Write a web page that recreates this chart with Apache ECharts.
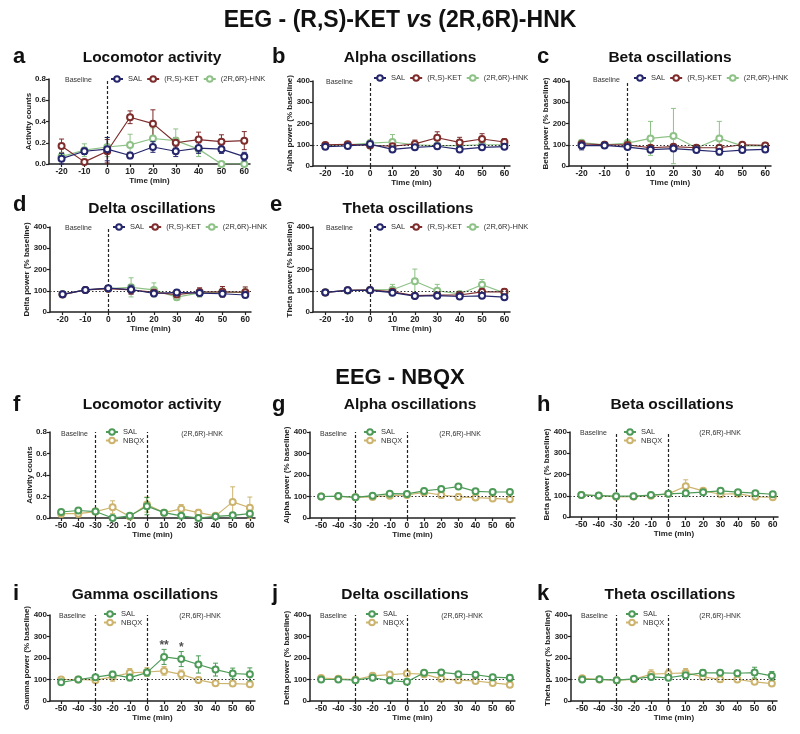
<!DOCTYPE html>
<html><head><meta charset="utf-8">
<script src="https://cdn.jsdelivr.net/npm/echarts@6/dist/echarts.min.js"></script>
<style>html,body{margin:0;padding:0;background:#fff}#c{width:800px;height:734px}</style>
</head><body><div id="c"></div>
<script>
// ---------------- DATA ----------------
const timeTop = [-20, -10, 0, 10, 20, 30, 40, 50, 60];
const timeBottom = [-50, -40, -30, -20, -10, 0, 10, 20, 30, 40, 50, 60];

// Panel a - Locomotor activity (KET vs HNK)
const locoSAL = [0.05, 0.12, 0.14, 0.08, 0.16, 0.12, 0.15, 0.14, 0.07];
const locoSALsem = [0.05, 0.03, 0.11, 0.03, 0.05, 0.05, 0.05, 0.04, 0.04];
const locoKET = [0.17, 0.02, 0.12, 0.44, 0.38, 0.20, 0.23, 0.21, 0.22];
const locoKETsem = [0.065, 0.02, 0.11, 0.06, 0.13, 0.05, 0.07, 0.065, 0.085];
const locoHNK = [0.07, 0.13, 0.16, 0.18, 0.24, 0.22, 0.14, 0.0, 0.0];
const locoHNKsem = [0.04, 0.06, 0.09, 0.10, 0.10, 0.11, 0.07, 0.0, 0.0];
// Panel b - Alpha
const alphaSAL = [91, 94, 103, 78, 88, 93, 78, 88, 91];
const alphaSALsem = [8, 6, 10, 6, 6, 12, 6, 6, 8];
const alphaKET = [99, 102, 97, 93, 104, 133, 111, 127, 113];
const alphaKETsem = [6, 6, 8, 10, 18, 28, 24, 25, 15];
const alphaHNK = [97, 100, 108, 113, 100, 96, 96, 100, 100];
const alphaHNKsem = [6, 6, 10, 35, 10, 10, 10, 10, 10];
// Panel c - Beta
const betaSAL = [96, 97, 89, 77, 82, 75, 67, 75, 78];
const betaSALsem = [20, 6, 8, 6, 6, 6, 6, 6, 6];
const betaKET = [104, 100, 99, 86, 91, 86, 86, 100, 97];
const betaKETsem = [8, 6, 10, 8, 8, 8, 10, 6, 6];
const betaHNK = [110, 100, 108, 130, 141, 85, 130, 95, 95];
const betaHNKsem = [12, 6, 10, 80, 130, 10, 80, 10, 10];
// Panel d - Delta
const deltaSAL = [83, 104, 112, 106, 87, 92, 89, 86, 80];
const deltaSALsem = [6, 6, 10, 20, 10, 12, 12, 12, 12];
const deltaKET = [82, 104, 110, 104, 92, 82, 94, 95, 93];
const deltaKETsem = [6, 6, 10, 20, 15, 20, 20, 25, 25];
const deltaHNK = [83, 104, 110, 116, 104, 70, 90, 92, 92];
const deltaHNKsem = [6, 6, 10, 45, 33, 15, 20, 20, 20];
// Panel e - Theta
const thetaSAL = [92, 102, 102, 91, 75, 77, 73, 76, 70];
const thetaSALsem = [6, 6, 8, 8, 8, 8, 8, 8, 8];
const thetaKET = [92, 102, 104, 95, 77, 79, 80, 95, 95];
const thetaKETsem = [6, 6, 8, 10, 10, 10, 10, 15, 15];
const thetaHNK = [93, 101, 104, 105, 145, 100, 85, 128, 90];
const thetaHNKsem = [6, 6, 8, 25, 57, 30, 10, 25, 15];

// Panel f - Locomotor (NBQX)
const nLocoSAL = [0.056, 0.07, 0.06, 0.0, 0.02, 0.11, 0.05, 0.02, 0.0, 0.015, 0.025, 0.04];
const nLocoSALsem = [0.02, 0.02, 0.02, 0.0, 0.01, 0.08, 0.02, 0.01, 0.0, 0.01, 0.01, 0.02];
const nLocoNBQX = [0.04, 0.04, 0.06, 0.10, 0.015, 0.125, 0.05, 0.085, 0.05, 0.02, 0.15, 0.095];
const nLocoNBQXsem = [0.03, 0.03, 0.02, 0.06, 0.01, 0.07, 0.02, 0.04, 0.03, 0.01, 0.14, 0.10];
// Panel g - Alpha
const nAlphaSAL = [100, 102, 96, 104, 113, 112, 126, 135, 146, 124, 121, 121];
const nAlphaSALsem = [5, 5, 5, 6, 8, 8, 12, 12, 10, 8, 8, 8];
const nAlphaNBQX = [100, 100, 96, 98, 104, 107, 119, 107, 98, 95, 91, 87];
const nAlphaNBQXsem = [5, 5, 5, 6, 6, 8, 10, 15, 15, 8, 8, 8];
// Panel h - Beta
const nBetaSAL = [104, 101, 98, 98, 103, 109, 112, 117, 123, 117, 112, 107];
const nBetaSALsem = [5, 5, 5, 5, 6, 8, 10, 8, 8, 8, 8, 8];
const nBetaNBQX = [104, 100, 95, 96, 100, 109, 145, 123, 107, 110, 95, 93];
const nBetaNBQXsem = [5, 5, 5, 5, 6, 10, 30, 10, 10, 10, 8, 8];
// Panel i - Gamma
const nGammaSAL = [87, 100, 111, 123, 109, 132, 205, 195, 170, 146, 128, 124];
const nGammaSALsem = [6, 5, 8, 15, 15, 15, 35, 35, 40, 30, 25, 30];
const nGammaNBQX = [100, 100, 97, 112, 131, 135, 140, 124, 98, 82, 81, 78];
const nGammaNBQXsem = [5, 5, 6, 20, 20, 20, 20, 20, 12, 8, 6, 6];
// Panel j - Delta
const nDeltaSAL = [100, 100, 97, 108, 95, 89, 131, 133, 125, 122, 111, 108];
const nDeltaSALsem = [6, 5, 5, 8, 8, 8, 10, 10, 10, 15, 12, 15];
const nDeltaNBQX = [107, 103, 100, 117, 123, 128, 125, 103, 97, 93, 84, 76];
const nDeltaNBQXsem = [6, 5, 5, 8, 10, 10, 10, 8, 8, 8, 8, 8];
// Panel k - Theta
const nThetaSAL = [100, 101, 97, 103, 112, 108, 120, 131, 131, 129, 132, 117];
const nThetaSALsem = [5, 5, 5, 5, 8, 8, 10, 15, 12, 10, 25, 20];
const nThetaNBQX = [106, 100, 97, 101, 125, 128, 131, 112, 101, 100, 89, 81];
const nThetaNBQXsem = [8, 8, 5, 5, 20, 20, 20, 10, 15, 10, 8, 10];

// significance marks (panel i)
const sigTime = [10, 20];
const sigValue = [258, 246];
const sigMark = ['**', '*'];

// ---------------- STYLE / LAYOUT ----------------
const FONT = '"Liberation Sans", Arial, Helvetica, sans-serif';
const INK = '#222';
const cNavy = '#25266c', cRed = '#7e2c2c', cLight = '#8ec287', cGreen = '#4e9b59', cTan = '#cdb46e';
const nSAL = 'SAL', nKET = '(R,S)-KET', nHNK = '(2R,6R)-HNK', nSAL2 = 'SAL ', nNBQX = 'NBQX';

const topGroups = (m1, s1, m2, s2, m3, s3) => [
  {name: nHNK, mean: m3, sem: s3, color: cLight, z: 3},
  {name: nKET, mean: m2, sem: s2, color: cRed, z: 4},
  {name: nSAL, mean: m1, sem: s1, color: cNavy, z: 5}
];
const botGroups = (m1, s1, m2, s2) => [
  {name: nNBQX, mean: m2, sem: s2, color: cTan, z: 3},
  {name: nSAL2, mean: m1, sem: s1, color: cGreen, z: 5}
];

const panels = [
  {L:'a', title:'Locomotor activity', yName:'Activity counts', loco:true, top:true, g:[49,79,201,85], tx:152, ty:58, lx:13, ly:57, leg:[110,79], base:[65,80],
   groups: topGroups(locoSAL, locoSALsem, locoKET, locoKETsem, locoHNK, locoHNKsem)},
  {L:'b', title:'Alpha oscillations', yName:'Alpha power (% baseline)', top:true, g:[313,81,197,85], tx:410, ty:58, lx:272, ly:57, leg:[373,78], base:[326,82],
   groups: topGroups(alphaSAL, alphaSALsem, alphaKET, alphaKETsem, alphaHNK, alphaHNKsem)},
  {L:'c', title:'Beta oscillations', yName:'Beta power (% baseline)', top:true, g:[569,81,202,85], tx:670, ty:58, lx:537, ly:57, leg:[633,78], base:[593,80],
   groups: topGroups(betaSAL, betaSALsem, betaKET, betaKETsem, betaHNK, betaHNKsem)},
  {L:'d', title:'Delta oscillations', yName:'Delta power (% baseline)', top:true, g:[50,227,201,85], tx:152, ty:209, lx:13, ly:205, leg:[112,227], base:[65,228],
   groups: topGroups(deltaSAL, deltaSALsem, deltaKET, deltaKETsem, deltaHNK, deltaHNKsem)},
  {L:'e', title:'Theta oscillations', yName:'Theta power (% baseline)', top:true, g:[313,227,197,85], tx:408, ty:209, lx:270, ly:205, leg:[373,227], base:[326,228],
   groups: topGroups(thetaSAL, thetaSALsem, thetaKET, thetaKETsem, thetaHNK, thetaHNKsem)},
  {L:'f', title:'Locomotor activity', yName:'Activity counts', loco:true, g:[50,432,205,86], tx:152, ty:405, lx:13, ly:405, leg:[105,432], base:[61,434], hnk:[202,434],
   groups: botGroups(nLocoSAL, nLocoSALsem, nLocoNBQX, nLocoNBQXsem)},
  {L:'g', title:'Alpha oscillations', yName:'Alpha power (% baseline)', g:[310,432,205,86], tx:410, ty:405, lx:272, ly:405, leg:[363,432], base:[320,434], hnk:[460,434],
   groups: botGroups(nAlphaSAL, nAlphaSALsem, nAlphaNBQX, nAlphaNBQXsem)},
  {L:'h', title:'Beta oscillations', yName:'Beta power (% baseline)', g:[570,432,208,85], tx:672, ty:405, lx:537, ly:405, leg:[623,432], base:[580,433], hnk:[720,433],
   groups: botGroups(nBetaSAL, nBetaSALsem, nBetaNBQX, nBetaNBQXsem)},
  {L:'i', title:'Gamma oscillations', yName:'Gamma power (% baseline)', g:[50,615,205,86], tx:145, ty:595, lx:13, ly:594, leg:[103,614], base:[59,616], hnk:[200,616], sig:true,
   groups: botGroups(nGammaSAL, nGammaSALsem, nGammaNBQX, nGammaNBQXsem)},
  {L:'j', title:'Delta oscillations', yName:'Delta power (% baseline)', g:[310,615,205,86], tx:405, ty:595, lx:272, ly:594, leg:[365,614], base:[320,616], hnk:[462,616],
   groups: botGroups(nDeltaSAL, nDeltaSALsem, nDeltaNBQX, nDeltaNBQXsem)},
  {L:'k', title:'Theta oscillations', yName:'Theta power (% baseline)', g:[571,615,206,86], tx:670, ty:595, lx:537, ly:594, leg:[625,614], base:[581,616], hnk:[720,616],
   groups: botGroups(nThetaSAL, nThetaSALsem, nThetaNBQX, nThetaNBQXsem)}
];

function errRender(color) {
  return function (params, api) {
    const x = api.value(0), lo = api.value(1), hi = api.value(2);
    const a = api.coord([x, hi]), b = api.coord([x, lo]);
    const w = 2.5;
    const st = {stroke: color, lineWidth: 1};
    return {type: 'group', children: [
      {type: 'line', shape: {x1: a[0], y1: a[1], x2: b[0], y2: b[1]}, style: st},
      {type: 'line', shape: {x1: a[0] - w, y1: a[1], x2: a[0] + w, y2: a[1]}, style: st},
      {type: 'line', shape: {x1: b[0] - w, y1: b[1], x2: b[0] + w, y2: b[1]}, style: st}
    ]};
  };
}

function txt(x, y, text, size, weight, align, color, extra) {
  return {type: 'text', x: x, y: y, silent: true, z: 50,
    style: Object.assign({text: text, fill: color || INK, fontSize: size, fontWeight: weight || 'normal', fontFamily: FONT,
      align: align || 'left', verticalAlign: 'middle', textAlign: align || 'left', textVerticalAlign: 'middle'}, extra || {})};
}

const option = {
  animation: false,
  backgroundColor: '#fff',
  textStyle: {fontFamily: FONT},
  grid: [], xAxis: [], yAxis: [], series: [], legend: [],
  graphic: {elements: []}
};

const G = option.graphic.elements;
G.push(txt(400, 21, 'EEG - (R,S)-KET {i|vs} (2R,6R)-HNK', 23, 'bold', 'center', '#111',
  {rich: {i: {fontStyle: 'italic', fontWeight: 'bold', fontSize: 23, fontFamily: FONT, fill: '#111'}}}));
G.push(txt(400, 378, 'EEG - NBQX', 22, 'bold', 'center', '#111'));

panels.forEach((p, i) => {
  const time = p.top ? timeTop : timeBottom;
  const xmin = p.top ? -25.5 : -56.5, xmax = p.top ? 62.5 : 63;
  option.grid.push({left: p.g[0], top: p.g[1], width: p.g[2], height: p.g[3]});
  option.xAxis.push({
    type: 'value', gridIndex: i, min: xmin, max: xmax,
    name: 'Time (min)', nameLocation: 'middle', nameGap: 12.5, nameMoveOverlap: false,
    nameTextStyle: {fontSize: 8, fontWeight: 'bold', color: INK, fontFamily: FONT},
    axisLine: {onZero: false, lineStyle: {color: INK, width: 1.5}},
    axisTick: {customValues: time, length: 3, lineStyle: {color: INK, width: 1.2}},
    axisLabel: {customValues: time, fontSize: 8.5, fontWeight: 'bold', color: INK, margin: 3, fontFamily: FONT},
    splitLine: {show: false}
  });
  option.yAxis.push({
    type: 'value', gridIndex: i, min: 0, max: p.loco ? 0.8 : 400, interval: p.loco ? 0.2 : 100,
    name: p.yName, nameLocation: 'middle', nameRotate: 90, nameGap: p.loco ? 16.5 : 19, nameMoveOverlap: false,
    nameTextStyle: {fontSize: 8, fontWeight: 'bold', color: INK, fontFamily: FONT},
    axisLine: {show: true, onZero: false, lineStyle: {color: INK, width: 1.5}},
    axisTick: {show: true, length: 3, lineStyle: {color: INK, width: 1.2}},
    axisLabel: {fontSize: 8, fontWeight: 'bold', color: INK, margin: 3, fontFamily: FONT,
      formatter: p.loco ? (v => v.toFixed(1)) : (v => String(v))},
    splitLine: {show: false}
  });

  const mlData = [{xAxis: 0, lineStyle: {type: [3, 2], color: INK, width: 1.2}}];
  if (!p.top) mlData.push({xAxis: -30, lineStyle: {type: [3, 2], color: INK, width: 1.2}});
  if (!p.loco) mlData.push({yAxis: 100, lineStyle: {type: [1.5, 2], color: '#333', width: 1}});

  p.groups.forEach((grp, gi) => {
    const s = {
      type: 'line', name: grp.name, xAxisIndex: i, yAxisIndex: i, z: grp.z,
      data: time.map((t, k) => [t, grp.mean[k]]),
      symbol: 'emptyCircle', symbolSize: 6, showAllSymbol: true,
      lineStyle: {color: grp.color, width: 1.2},
      itemStyle: {color: grp.color, borderWidth: 1.2},
      emphasis: {disabled: true}
    };
    if (gi === 0) {
      s.markLine = {silent: true, symbol: ['none', 'none'], label: {show: false}, animation: false, data: mlData};
    }
    option.series.push(s);
    option.series.push({
      type: 'custom', name: grp.name.trim() + ' SEM', xAxisIndex: i, yAxisIndex: i, silent: true, z: grp.z - 1,
      data: time.map((t, k) => [t, grp.mean[k] - grp.sem[k], grp.mean[k] + grp.sem[k]]),
      encode: {x: 0, y: [1, 2]}, renderItem: errRender(grp.color)
    });
  });

  if (p.sig) {
    option.series.push({
      type: 'scatter', name: 'significance', xAxisIndex: i, yAxisIndex: i, symbolSize: 1, z: 10,
      itemStyle: {color: 'rgba(0,0,0,0)'},
      data: sigTime.map((t, k) => [t, sigValue[k]]),
      label: {show: true, position: 'inside', fontSize: 12, fontWeight: 'bold', color: INK,
        formatter: prm => sigMark[prm.dataIndex]}
    });
  }

  // legend
  const names = p.groups.slice().sort((a, b) => b.z - a.z).map(g => g.name);
  option.legend.push(p.top ? {
    orient: 'horizontal', left: p.leg[0], top: p.leg[1] - 4, padding: 0, itemGap: 4, width: 220,
    itemWidth: 12, itemHeight: 7, data: names, selectedMode: false,
    textStyle: {fontSize: 7.5, color: '#333', fontFamily: FONT}
  } : {
    orient: 'vertical', left: p.leg[0], top: p.leg[1] - 4, padding: 0, itemGap: 0.5,
    itemWidth: 12, itemHeight: 7, data: names, selectedMode: false,
    formatter: n => n.trim(),
    textStyle: {fontSize: 7.5, color: '#333', fontFamily: FONT}
  });

  // texts
  G.push(txt(p.tx, p.ty, p.title, 15.5, 'bold', 'center', '#111'));
  G.push(txt(p.lx, p.ly, p.L, 22, 'bold', 'left', '#111'));
  G.push(txt(p.base[0], p.base[1], 'Baseline', 7, 'normal', 'left', '#333'));
  if (p.hnk) G.push(txt(p.hnk[0], p.hnk[1], '(2R,6R)-HNK', 7, 'normal', 'center', '#333'));
});

const chart = echarts.init(document.getElementById('c'), null, {renderer: 'canvas'});
chart.setOption(option);
</script>
</body></html>
